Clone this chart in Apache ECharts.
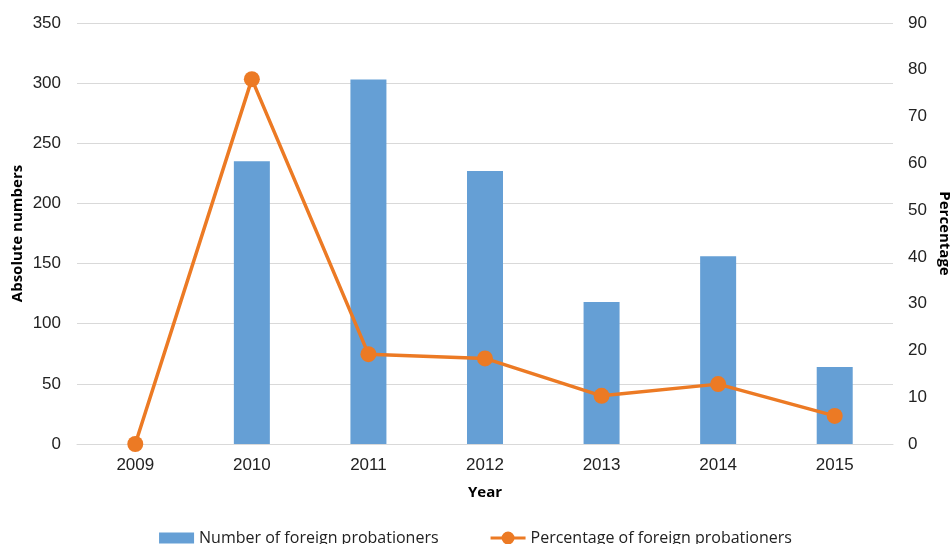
<!DOCTYPE html>
<html>
  <head>
    <meta charset="utf-8" />
    <title>Foreign probationers</title>
    <script src="https://cdn.jsdelivr.net/npm/echarts@6/dist/echarts.min.js"></script>
    <style>
      html, body { margin: 0; padding: 0; background: #fff; }
      #main { width: 951px; height: 544px; }
    </style>
  </head>
  <body>
    <div id="main"></div>
    <script>
      // data
      var years = ['2009', '2010', '2011', '2012', '2013', '2014', '2015']
      var numbers = [0, 235, 303, 227, 118, 156, 64]
      var percentage = [0, 78, 19.2, 18.3, 10.3, 12.8, 6.0]

      var labelFont = 'Liberation Sans'
      var titleFont = 'Open Sans'

      // legend icons like the excel ones: flat box, and a line with a dot on it
      var barIcon = 'path://M0,0H35V11H0Z'
      var lineIcon = 'path://M0,5H35V8H0Z M11,6.5A6.5,6.5,0,1,1,24,6.5A6.5,6.5,0,1,1,11,6.5Z'

      var myChart = echarts.init(document.getElementById('main'))
      var option = {
        textStyle: { fontFamily: labelFont },
        grid: { left: 77, right: 58, top: 23, bottom: 100, outerBoundsMode: 'none' },
        legend: {
          bottom: -7,
          left: 'center',
          itemGap: 52,
          itemWidth: 35,
          itemHeight: 13,
          textStyle: { fontSize: 16, color: '#222', fontFamily: titleFont },
          data: [
            { name: 'Number of foreign probationers', icon: barIcon },
            { name: 'Percentage of foreign probationers', icon: lineIcon }
          ]
        },
        xAxis: {
          type: 'category',
          data: years,
          name: 'Year',
          nameLocation: 'middle',
          nameGap: 41,
          nameTextStyle: { fontWeight: 'bold', fontSize: 15, color: '#000', fontFamily: titleFont },
          axisLine: { lineStyle: { color: '#d9d9d9' } },
          axisTick: { show: false },
          axisLabel: { fontSize: 17, color: '#222', margin: 13, fontFamily: labelFont }
        },
        yAxis: [
          {
            type: 'value',
            min: 0,
            max: 350,
            interval: 50,
            name: 'Absolute numbers',
            nameLocation: 'middle',
            nameRotate: 90,
            nameGap: 52,
            nameMoveOverlap: false,
            nameTextStyle: { fontWeight: 'bold', fontSize: 15, color: '#000', fontFamily: titleFont },
            axisLabel: { fontSize: 17, color: '#222', margin: 16, fontFamily: labelFont },
            splitLine: { lineStyle: { color: '#d9d9d9', width: 1 } }
          },
          {
            type: 'value',
            min: 0,
            max: 90,
            interval: 10,
            name: 'Percentage',
            nameLocation: 'middle',
            nameRotate: -90,
            nameGap: 44,
            nameMoveOverlap: false,
            nameTextStyle: { fontWeight: 'bold', fontSize: 15, color: '#000', fontFamily: titleFont },
            axisLabel: { fontSize: 17, color: '#222', margin: 15, fontFamily: labelFont },
            splitLine: { show: false }
          }
        ],
        series: [
          {
            name: 'Number of foreign probationers',
            type: 'bar',
            yAxisIndex: 0,
            barWidth: 36,
            itemStyle: { color: '#659fd5' },
            data: numbers
          },
          {
            name: 'Percentage of foreign probationers',
            type: 'line',
            yAxisIndex: 1,
            symbol: 'circle',
            symbolSize: 16,
            lineStyle: { color: '#ec7a24', width: 3.5 },
            itemStyle: { color: '#ec7a24' },
            data: percentage
          }
        ]
      }
      myChart.setOption(option)
    </script>
  </body>
</html>
